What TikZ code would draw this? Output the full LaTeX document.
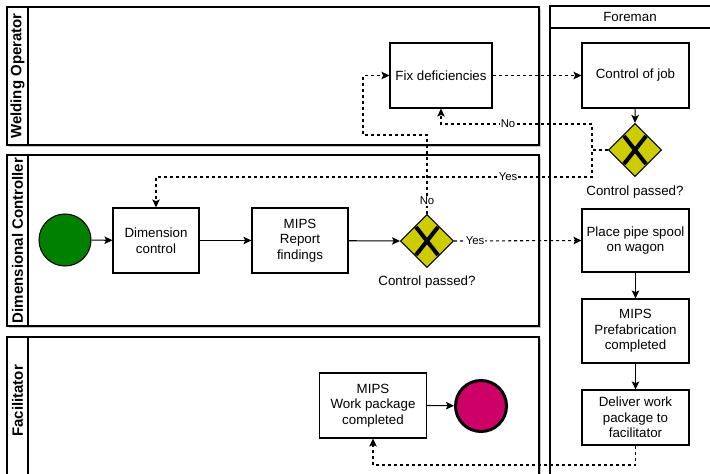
\documentclass[tikz,border=0pt]{standalone}
\usepackage{fontspec}
\setmainfont{Liberation Sans}
\usetikzlibrary{shapes.geometric,arrows.meta}
\definecolor{gwyellow}{HTML}{CCCC00}
\definecolor{startgreen}{HTML}{008000}
\definecolor{endpink}{HTML}{CC0066}
\begin{document}
\begin{tikzpicture}[x=0.75pt,y=-0.75pt,
  txt/.style={font=\fontsize{10}{11.6}\selectfont},
  task/.style={draw, fill=white, line width=0.8pt, align=center, inner sep=1pt, txt},
  lane/.style={draw, fill=white, line width=0.8pt},
  laneshadow/.style={fill=black!22},
  lanetitle/.style={font=\fontsize{11.25}{13}\selectfont\bfseries, rotate=90},
  flow/.style={line width=0.8pt, -{Stealth[length=6pt,width=5.6pt,inset=1.3pt]}},
  msg/.style={flow, dash pattern=on 2.25pt off 2.25pt},
  gate/.style={diamond, draw, fill=gwyellow, line width=0.8pt, inner sep=0pt, minimum size=39.75pt},
  lbl/.style={fill=white, inner sep=0.8pt, font=\fontsize{8.5}{9}\selectfont}
]
% page area
\fill[white] (0,0) rectangle (710,474);
\useasboundingbox (0,0) rectangle (710,474);
\clip (0,0) rectangle (710,474);

% ---- swimlanes ----
% Welding Operator
\fill[laneshadow] (9,9) rectangle (541,147);
\draw[lane] (7,7) rectangle (539,145);
\draw[line width=0.8pt] (28,7) -- (28,145);
\node[lanetitle] (lwo) at (17.5,76) {Welding Operator};

% Dimensional Controller
\fill[laneshadow] (9,157) rectangle (541,328);
\draw[lane] (7,155) rectangle (539,326);
\draw[line width=0.8pt] (28,155) -- (28,326);
\node[lanetitle] (ldc) at (17.5,240.5) {Dimensional Controller};

% Facilitator (continues below the page edge)
\fill[laneshadow] (9,339) rectangle (541,490);
\draw[lane] (7,337) rectangle (539,488);
\draw[line width=0.8pt] (28,337) -- (28,488);
\node[lanetitle] (lfa) at (17.5,401) {Facilitator};

% Foreman
\draw[lane] (550,6) rectangle (720,488);
\draw[line width=0.8pt] (550,28) -- (720,28);
\node[txt] (lfo) at (630,17) {Foreman};

% ---- flow nodes ----
\node[circle, draw, fill=startgreen, line width=0.8pt, minimum size=39pt, inner sep=0pt] (start) at (65,240) {};
\node[task, minimum width=64.5pt, minimum height=48.75pt] (dim) at (156,240.5) {Dimension\\control};
\node[task, minimum width=72pt, minimum height=48.75pt] (report) at (300,240.5) {MIPS\\Report\\findings};
\node[gate] (gw1) at (427,241) {};
\node[task, minimum width=76.5pt, minimum height=48.75pt] (fix) at (441,75.5) {Fix deficiencies};
\node[task, minimum width=80.25pt, minimum height=48.75pt] (job) at (635.5,75.5) {Control of job};
\node[gate] (gw2) at (635,150) {};
\node[task, minimum width=80.25pt, minimum height=47.25pt] (place) at (635.5,240.5) {Place pipe spool\\on wagon};
\node[task, minimum width=80.25pt, minimum height=48pt] (prefab) at (635.5,331) {MIPS\\Prefabrication\\completed};
\node[task, minimum width=80.25pt, minimum height=41.25pt] (deliver) at (635.5,417.5) {Deliver work\\package to\\facilitator};
\node[task, minimum width=80.25pt, minimum height=48.75pt] (wp) at (373,405.5) {MIPS\\Work package\\completed};
\node[circle, draw, fill=endpink, line width=2.25pt, minimum size=38.25pt, inner sep=0pt] (end) at (481,406) {};

% exclusive gateway markers
\foreach \g in {gw1,gw2}{
  \draw[line width=3pt] ([shift={(-11,-14)}]\g.center) -- ([shift={(11,14)}]\g.center);
  \draw[line width=3pt] ([shift={(-11,14)}]\g.center) -- ([shift={(11,-14)}]\g.center);
}
\node[txt] (q1) at (427,282) {Control passed?};
\node[txt] (q2) at (635,192) {Control passed?};

% ---- sequence flows ----
\draw[flow] (start) -- (dim);
\draw[flow] (dim) -- (report);
\draw[flow] (report) -- (gw1.west);
\draw[flow] (job) -- (gw2.north);
\draw[flow] (place) -- (prefab);
\draw[flow] (prefab) -- (deliver);
\draw[flow] (wp.east) -- (end);

% ---- dashed flows ----
\draw[msg] (fix.east) -- (job.west);
\draw[msg] (gw1.north) -- (427,135) -- (363,135) -- (363,75.5) -- (fix.west);
\draw[msg] (gw1.east) -- (place.west);
\draw[msg] (gw2.west) -- (592,150) -- (592,124) -- (441,124) -- (fix.south);
\draw[msg] (gw2.west) -- (592,150) -- (592,177) -- (156,177) -- (dim.north);
\draw[msg] (deliver.south) -- (635.5,465) -- (373,465) -- (wp.south);

% ---- branch labels ----
\node[lbl] (n1) at (427,201) {No};
\node[lbl] (y1) at (475,241) {Yes};
\node[lbl] (n2) at (508,124) {No};
\node[lbl] (y2) at (508,177) {Yes};
\end{tikzpicture}
\end{document}
